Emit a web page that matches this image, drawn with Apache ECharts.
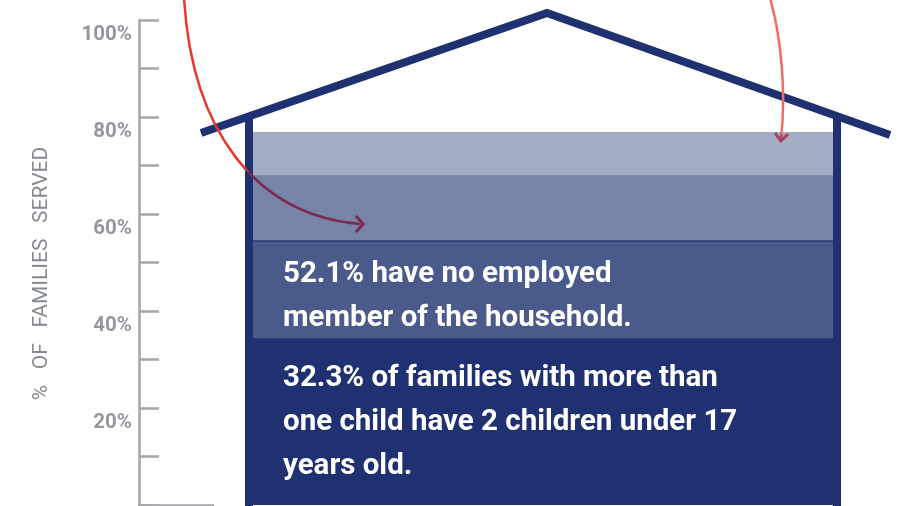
<!DOCTYPE html>
<html>
<head>
<meta charset="utf-8">
<script src="https://cdn.jsdelivr.net/npm/echarts@6/dist/echarts.min.js"></script>
<style>
  html, body { margin: 0; padding: 0; background: #ffffff; }
  #chart { width: 911px; height: 506px; }
</style>
</head>
<body>
<div id="chart"></div>
<script>
// ---- data ----
const categories = ['Families served'];
const yTickValues = [0, 10, 20, 30, 40, 50, 60, 70, 80, 90, 100];
const yTickLabels = ['', '', '20%', '', '40%', '', '60%', '', '80%', '', '100%'];
const axisTitle = '%   OF   FAMILIES   SERVED';
// level (top edge, % of families) of each band of the house fill
const topBand = [76.9];
const upperBand = [68.0];
const employedBand = [54.6];
const childrenBand = [34.4];
const employedText = ['52.1% have no employed', 'member of the household.'];
const childrenText = ['32.3% of families with more than', 'one child have 2 children under 17', 'years old.'];

const NAVY = '#1f3170';
const GREY = '#a2a6a9';
const FONT = 'Roboto';

const chart = echarts.init(document.getElementById('chart'), null, { renderer: 'canvas' });

const labelMap = {};
yTickValues.forEach((v, i) => { labelMap[v] = yTickLabels[i]; });

const bandLabelStyle = {
  color: '#ffffff',
  fontFamily: FONT,
  fontWeight: 700,
  fontSize: 29.5,
  lineHeight: 44
};

const option = {
  backgroundColor: '#ffffff',
  animation: false,
  grid: [
    { left: 139, top: 20, bottom: 1, width: 74, containLabel: false },
    { left: 245, top: 20, bottom: 1, width: 596, containLabel: false }
  ],
  xAxis: [
    {
      gridIndex: 0, type: 'category', data: [''],
      axisLine: { show: true, lineStyle: { color: GREY, width: 2.5 } },
      axisTick: { show: false }, axisLabel: { show: false }, splitLine: { show: false }
    },
    {
      gridIndex: 1, type: 'category', data: categories, show: false
    }
  ],
  yAxis: [
    {
      gridIndex: 0, type: 'value', min: 0, max: 100, interval: 10,
      name: axisTitle,
      nameLocation: 'middle',
      nameRotate: 90,
      nameGap: 87,
      nameTextStyle: {
        color: '#848a8f', fontFamily: FONT, fontWeight: 400, fontSize: 21,
        padding: [0, 22, 0, 0]
      },
      axisLine: { show: true, lineStyle: { color: GREY, width: 2.5 } },
      axisTick: { show: true, inside: true, length: 20, lineStyle: { color: GREY, width: 2.5 } },
      axisLabel: {
        show: true, margin: 7, color: '#93989d', fontFamily: FONT, fontWeight: 700, fontSize: 20.5,
        verticalAlign: 'top', padding: [4, 0, 0, 0],
        formatter: v => labelMap[v] || ''
      },
      splitLine: { show: false }
    },
    {
      gridIndex: 1, type: 'value', min: 0, max: 100, show: false
    }
  ],
  series: [
    {
      type: 'bar', xAxisIndex: 1, yAxisIndex: 1, data: topBand,
      barWidth: '100%', barGap: '-100%', itemStyle: { color: '#a5acc5' }, z: 2
    },
    {
      type: 'bar', xAxisIndex: 1, yAxisIndex: 1, data: upperBand,
      barWidth: '100%', barGap: '-100%', itemStyle: { color: '#7884a6' }, z: 2
    },
    {
      type: 'bar', xAxisIndex: 1, yAxisIndex: 1, data: employedBand,
      barWidth: '100%', barGap: '-100%',
      itemStyle: { color: '#4a5a8a', borderColor: '#2a3a78', borderWidth: 1.5 }, z: 2,
      label: {
        show: true, position: 'insideTopLeft', distance: 12, offset: [26, 0],
        formatter: () => employedText.join('\n'),
        ...bandLabelStyle
      }
    },
    {
      type: 'bar', xAxisIndex: 1, yAxisIndex: 1, data: childrenBand,
      barWidth: '100%', barGap: '-100%', itemStyle: { color: NAVY }, z: 2,
      label: {
        show: true, position: 'insideLeft', distance: 38, offset: [0, 1],
        formatter: () => childrenText.join('\n'),
        ...bandLabelStyle
      }
    }
  ],
  graphic: [
    // house walls
    { type: 'rect', shape: { x: 245, y: 117, width: 8, height: 400 }, style: { fill: NAVY }, z: 10 },
    { type: 'rect', shape: { x: 833, y: 115, width: 8, height: 400 }, style: { fill: NAVY }, z: 10 },
    // roof
    {
      type: 'polyline', shape: { points: [[201, 133], [547, 13], [890, 135]] },
      style: { stroke: NAVY, lineWidth: 8, fill: null, lineJoin: 'miter', lineCap: 'butt' }, z: 11
    },
    // left arrow
    {
      type: 'bezierCurve',
      shape: { x1: 184, y1: -2, cpx1: 192, cpy1: 130, cpx2: 255, cpy2: 215, x2: 360, y2: 224 },
      style: {
        fill: null, lineWidth: 2.5,
        stroke: { type: 'linear', x: 0, y: 0, x2: 0, y2: 1, colorStops: [
          { offset: 0, color: '#e8372c' }, { offset: 0.745, color: '#e8372c' },
          { offset: 0.765, color: '#7a2b55' }, { offset: 1, color: '#7a2b55' }
        ] }
      }, z: 12
    },
    {
      type: 'polyline', shape: { points: [[356, 216], [363, 224], [356, 232]] },
      style: { stroke: '#7a2b55', lineWidth: 3, fill: null }, z: 12
    },
    // right arrow
    {
      type: 'bezierCurve',
      shape: { x1: 770, y1: -2, cpx1: 782, cpy1: 40, cpx2: 786, cpy2: 95, x2: 781, y2: 139 },
      style: {
        fill: null, lineWidth: 2.5,
        stroke: { type: 'linear', x: 0, y: 0, x2: 0, y2: 1, colorStops: [
          { offset: 0, color: '#f26b63' }, { offset: 0.94, color: '#f26b63' },
          { offset: 0.96, color: '#a4445f' }, { offset: 1, color: '#a4445f' }
        ] }
      }, z: 12
    },
    {
      type: 'polyline', shape: { points: [[775, 133], [781, 141], [788, 134]] },
      style: { stroke: '#a4445f', lineWidth: 3, fill: null }, z: 12
    }
  ]
};

chart.setOption(option);
</script>
</body>
</html>
